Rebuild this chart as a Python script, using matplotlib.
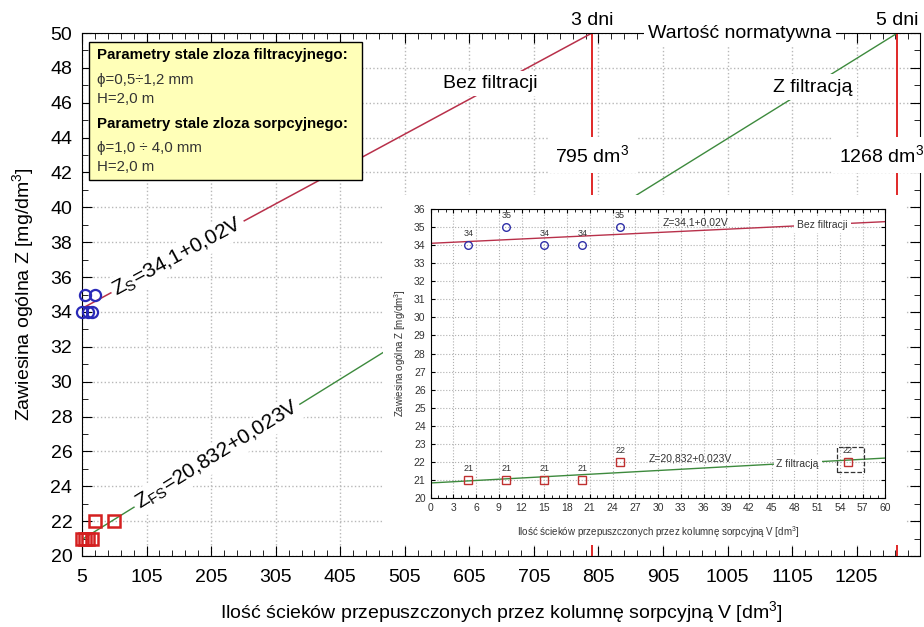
import numpy as np
import matplotlib.pyplot as plt
from matplotlib.patches import Rectangle
from matplotlib.ticker import MultipleLocator

plt.rcParams['font.family'] = ['Liberation Sans', 'DejaVu Sans']
plt.rcParams['mathtext.fontset'] = 'custom'
plt.rcParams['mathtext.rm'] = 'Liberation Sans'
plt.rcParams['mathtext.default'] = 'regular'

# measured points
v_meas = [5, 10, 15, 20, 25]
z_bez = [34, 35, 34, 34, 35]
v_filtr = [5, 10, 15, 20, 25, 55]
z_filtr = [21, 21, 21, 21, 22, 22]

# regression lines Z = a + b*V
a_bez, b_bez = 34.1, 0.02
a_fil, b_fil = 20.832, 0.023

z_norm = 50       # normative value
v_3dni = 795      # volume after 3 days
v_5dni = 1268     # volume after 5 days

red_line = '#b8304a'
green_line = '#3d8a3d'
vred = '#e02828'

W, H = 924, 627
fig = plt.figure(figsize=(W / 100, H / 100), dpi=100)

def px(x0, y0, x1, y1):
    # pixel box -> figure fraction [left, bottom, width, height]
    return [x0 / W, 1 - y1 / H, (x1 - x0) / W, (y1 - y0) / H]

############################
# main axes
############################
ax = fig.add_axes(px(82, 33, 920, 556))
ax.set_xlim(5, 1303)
ax.set_ylim(20, 50)
ax.xaxis.set_major_locator(MultipleLocator(100, offset=5))
ax.xaxis.set_minor_locator(MultipleLocator(20, offset=5))
ax.yaxis.set_major_locator(MultipleLocator(2))
ax.yaxis.set_minor_locator(MultipleLocator(1))
ax.tick_params(which='both', direction='in', top=True, right=True, labelsize=14)
ax.tick_params(which='major', length=7)
ax.tick_params(which='minor', length=4)
ax.tick_params(axis='x', which='major', pad=9)
ax.tick_params(axis='y', which='major', pad=7)
ax.grid(True, which='major', linestyle=':', color='#b8b8b8', linewidth=1)
ax.set_xlabel('Ilość ścieków przepuszczonych przez kolumnę sorpcyjną V [dm$^3$]', fontsize=14, labelpad=10)
ax.set_ylabel('Zawiesina ogólna Z [mg/dm$^3$]', fontsize=14, labelpad=10)

v1 = np.array([5, v_3dni])
ax.plot(v1, a_bez + b_bez * v1, color=red_line, lw=1.1, zorder=2)
v2 = np.array([5, v_5dni])
ax.plot(v2, a_fil + b_fil * v2, color=green_line, lw=1.0, zorder=2)

for v in (v_3dni, v_5dni):
    ax.plot([v, v], [20, z_norm], color=vred, lw=1.4, zorder=2)

ax.plot(v_meas, z_bez, 'o', ms=8, mfc='none', mec='#2a2ab8', mew=1.6, zorder=3, clip_on=False)
ax.plot(v_filtr, z_filtr, 's', ms=9, mfc='none', mec='#d42020', mew=1.8, zorder=3, clip_on=False)

def line_angle(a, b, v):
    p1 = ax.transData.transform((v, a + b * v))
    p2 = ax.transData.transform((v + 100, a + b * (v + 100)))
    return np.degrees(np.arctan2(p2[1] - p1[1], p2[0] - p1[0]))

wbox = dict(facecolor='white', edgecolor='none', pad=2)
vs, vfs = 153, 214
ax.text(vs, a_bez + b_bez * vs, 'Z$_S$=34,1+0,02V', fontsize=15, rotation=line_angle(a_bez, b_bez, vs),
        rotation_mode='anchor', ha='center', va='center', bbox=wbox, zorder=4)
ax.text(vfs, a_fil + b_fil * vfs, 'Z$_{FS}$=20,832+0,023V', fontsize=15, rotation=line_angle(a_fil, b_fil, vfs),
        rotation_mode='anchor', ha='center', va='center', bbox=wbox, zorder=4)

ax.text(637, 47.1, 'Bez filtracji', fontsize=14, ha='center', va='center',
        bbox=dict(facecolor='white', edgecolor='none', pad=3), zorder=4)
ax.text(1137, 46.9, 'Z filtracją', fontsize=14, ha='center', va='center',
        bbox=dict(facecolor='white', edgecolor='none', pad=3), zorder=4)
ax.text(v_3dni, 43.0, '795 dm$^3$', fontsize=14, ha='center', va='center',
        bbox=dict(facecolor='white', edgecolor='none', pad=5), zorder=4)
ax.text(1243, 43.0, '1268 dm$^3$', fontsize=14, ha='center', va='center',
        bbox=dict(facecolor='white', edgecolor='none', pad=5), zorder=4)
ax.text(1024, z_norm, 'Wartość normatywna', fontsize=14, ha='center', va='center',
        bbox=dict(facecolor='white', edgecolor='none', pad=3), zorder=4)
ax.text(v_3dni, z_norm + 0.25, '3 dni', fontsize=14, ha='center', va='bottom')
ax.text(v_5dni, z_norm + 0.25, '5 dni', fontsize=14, ha='center', va='bottom')

# parameter box
fig.add_artist(Rectangle((89 / W, 1 - 180 / H), 273 / W, 138 / H, transform=fig.transFigure,
                         facecolor='#ffffb8', edgecolor='black', lw=1, zorder=1))
box_lines = [
    (55, 'Parametry stale zloza filtracyjnego:', 'bold', 'black'),
    (80, 'ϕ=0,5÷1,2 mm', 'normal', '#333333'),
    (99, 'H=2,0 m', 'normal', '#333333'),
    (124, 'Parametry stale zloza sorpcyjnego:', 'bold', 'black'),
    (148, 'ϕ=1,0 ÷ 4,0 mm', 'normal', '#333333'),
    (167, 'H=2,0 m', 'normal', '#333333'),
]
for y, s, wgt, col in box_lines:
    fig.text(97 / W, 1 - y / H, s, fontsize=10.8, fontweight=wgt, color=col, va='center', ha='left', zorder=3)

############################
# inset
############################
fig.add_artist(Rectangle((383 / W, 1 - 545 / H), (905 - 383) / W, (545 - 195) / H,
                         transform=fig.transFigure, facecolor='white', edgecolor='none', zorder=1))
ax2 = fig.add_axes(px(430.5, 209, 885.5, 498))
ax2.set_zorder(2)
ax2.set_xlim(0, 60)
ax2.set_ylim(20, 36)
ax2.xaxis.set_major_locator(MultipleLocator(3))
ax2.xaxis.set_minor_locator(MultipleLocator(1))
ax2.yaxis.set_major_locator(MultipleLocator(1))
ax2.tick_params(which='both', direction='in', top=True, right=True, labelsize=7.5, labelcolor='#333333')
ax2.tick_params(which='major', length=3)
ax2.tick_params(which='minor', length=2)
ax2.grid(True, which='major', linestyle=':', color='#b0b0b0', linewidth=0.8)
ax2.set_xlabel('Ilość ścieków przepuszczonych przez kolumnę sorpcyjną V [dm$^3$]', fontsize=7, color='#333333', labelpad=8)
ax2.set_ylabel('Zawiesina ogólna Z [mg/dm$^3$]', fontsize=7, color='#333333', labelpad=4)

vv = np.array([0, 60])
ax2.plot(vv, a_bez + b_bez * vv, color=red_line, lw=1.0, zorder=2)
ax2.plot(vv, a_fil + b_fil * vv, color=green_line, lw=1.0, zorder=2)
ax2.plot(v_meas, z_bez, 'o', ms=5.5, mfc='none', mec='#3030a8', mew=1.0, zorder=3)
ax2.plot(v_filtr, z_filtr, 's', ms=5.5, mfc='none', mec='#c03030', mew=1.0, zorder=3)
for v, z in zip(v_meas, z_bez):
    ax2.annotate(str(z), (v, z), xytext=(0, 5), textcoords='offset points', ha='center', va='bottom',
                 fontsize=6.5, color='#333333')
for v, z in zip(v_filtr, z_filtr):
    ax2.annotate(str(z), (v, z), xytext=(0, 5), textcoords='offset points', ha='center', va='bottom',
                 fontsize=6.5, color='#333333')

ax2.add_patch(Rectangle((53.6, 21.45), 3.5, 1.4, facecolor='none', edgecolor='#333333',
                        lw=0.9, linestyle='--', zorder=4))
ax2.text(34.9, 35.25, 'Z=34,1+0,02V', fontsize=7.5, ha='center', va='center', color='#333333')
ax2.text(51.7, 35.1, 'Bez filtracji', fontsize=7.5, ha='center', va='center', color='#333333',
         bbox=dict(facecolor='white', edgecolor='none', pad=2), zorder=3)
ax2.text(34.2, 22.2, 'Z=20,832+0,023V', fontsize=7.5, ha='center', va='center', color='#333333')
ax2.text(48.4, 21.9, 'Z filtracją', fontsize=7.5, ha='center', va='center', color='#333333',
         bbox=dict(facecolor='white', edgecolor='none', pad=2), zorder=3)

fig.savefig('out.png', dpi=100)
